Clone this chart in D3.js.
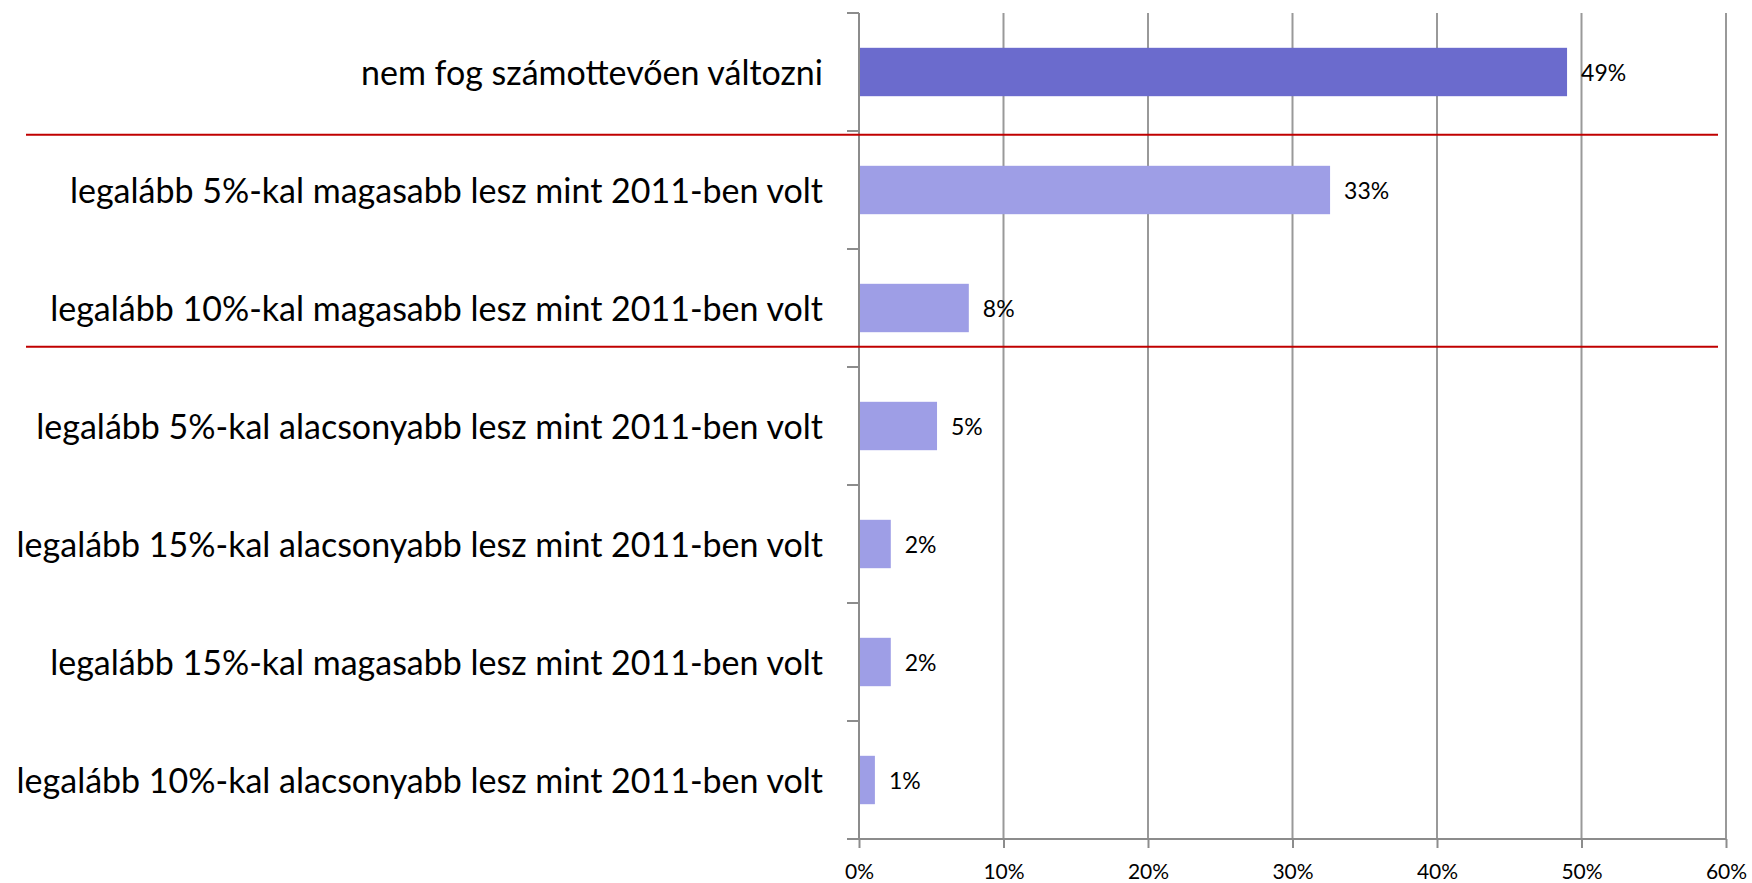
<!DOCTYPE html>
<html>
<head>
<meta charset="utf-8">
<style>
  body { margin: 0; background: #fff; }
  svg text { font-family: Lato, "Open Sans", sans-serif; fill: #000; }
</style>
</head>
<body>
<svg width="1752" height="883"></svg>
<script src="https://cdnjs.cloudflare.com/ajax/libs/d3/7.8.5/d3.min.js"></script>
<script>

// categories, top to bottom
var categories = [
  "nem fog számottevően változni",
  "legalább 5%-kal magasabb lesz mint 2011-ben volt",
  "legalább 10%-kal magasabb lesz mint 2011-ben volt",
  "legalább 5%-kal alacsonyabb lesz mint 2011-ben volt",
  "legalább 15%-kal alacsonyabb lesz mint 2011-ben volt",
  "legalább 15%-kal magasabb lesz mint 2011-ben volt",
  "legalább 10%-kal alacsonyabb lesz mint 2011-ben volt"
];
var values = [49.0, 32.6, 7.6, 5.4, 2.2, 2.2, 1.1];
var valueLabels = ["49%", "33%", "8%", "5%", "2%", "2%", "1%"];
var xTicks = [0, 10, 20, 30, 40, 50, 60];

var svg = d3.select("svg");

var plotLeft = 859, plotRight = 1726, plotTop = 13, plotBottom = 839;

var x = d3.scaleLinear().domain([0, 60]).range([plotLeft, plotRight]);
var y = d3.scaleBand().domain(categories).range([plotTop, plotBottom]).paddingInner(0.59).paddingOuter(0.295);

// vertical gridlines
svg.selectAll(".grid")
  .data(xTicks.slice(1))
  .enter().append("line")
  .attr("x1", function(d) { return x(d); })
  .attr("x2", function(d) { return x(d); })
  .attr("y1", plotTop)
  .attr("y2", plotBottom)
  .style("stroke", "#999")
  .style("stroke-width", 2);

// bars
svg.selectAll(".bar")
  .data(values)
  .enter().append("rect")
  .attr("x", x(0))
  .attr("y", function(d, i) { return y(categories[i]); })
  .attr("width", function(d) { return x(d) - x(0); })
  .attr("height", y.bandwidth())
  .style("fill", function(d, i) { return i === 0 ? "#6b6bcd" : "#9e9ee6"; });

// value labels
svg.selectAll(".val")
  .data(values)
  .enter().append("text")
  .attr("x", function(d) { return x(d) + 14; })
  .attr("y", function(d, i) { return y(categories[i]) + y.bandwidth() / 2; })
  .attr("dy", "0.4em")
  .style("font-size", "23px")
  .text(function(d, i) { return valueLabels[i]; });

// x axis
var xAxis = d3.axisBottom(x)
  .tickValues(xTicks)
  .tickSize(9)
  .tickPadding(16)
  .tickFormat(function(d) { return d + "%"; });

var gx = svg.append("g")
  .attr("transform", "translate(0," + plotBottom + ")")
  .call(xAxis);
gx.select(".domain").attr("d", "M" + (plotLeft - 12) + ",0H" + plotRight).style("stroke", "#8c8c8c").style("stroke-width", 2);
gx.selectAll(".tick line").style("stroke", "#8c8c8c").style("stroke-width", 2);
gx.selectAll(".tick text").style("font-size", "21px").style("font-family", "Lato, sans-serif").attr("fill", "#000");

// y axis
var yAxis = d3.axisLeft(y).tickSize(0).tickPadding(36);
var gy = svg.append("g")
  .attr("transform", "translate(" + plotLeft + ",0)")
  .call(yAxis);
gy.select(".domain").attr("d", "M0," + plotTop + "V" + plotBottom).style("stroke", "#8c8c8c").style("stroke-width", 2);
gy.selectAll(".tick text")
  .attr("dy", "0.38em")
  .style("font-size", "34px").style("font-family", "Lato, sans-serif").attr("fill", "#000");

// category boundary ticks
var bounds = d3.range(categories.length).map(function(i) { return plotTop + i * (plotBottom - plotTop) / categories.length; });
svg.selectAll(".ytick")
  .data(bounds)
  .enter().append("line")
  .attr("x1", plotLeft - 12)
  .attr("x2", plotLeft)
  .attr("y1", function(d) { return d; })
  .attr("y2", function(d) { return d; })
  .style("stroke", "#8c8c8c")
  .style("stroke-width", 2);

// red separators between groups
var separators = [
  y(categories[1]) - 31,
  y(categories[3]) - 55
];
svg.selectAll(".sep")
  .data(separators)
  .enter().append("line")
  .attr("x1", 26)
  .attr("x2", 1718)
  .attr("y1", function(d) { return d; })
  .attr("y2", function(d) { return d; })
  .style("stroke", "#c00000")
  .style("stroke-width", 2);

</script>
</body>
</html>
